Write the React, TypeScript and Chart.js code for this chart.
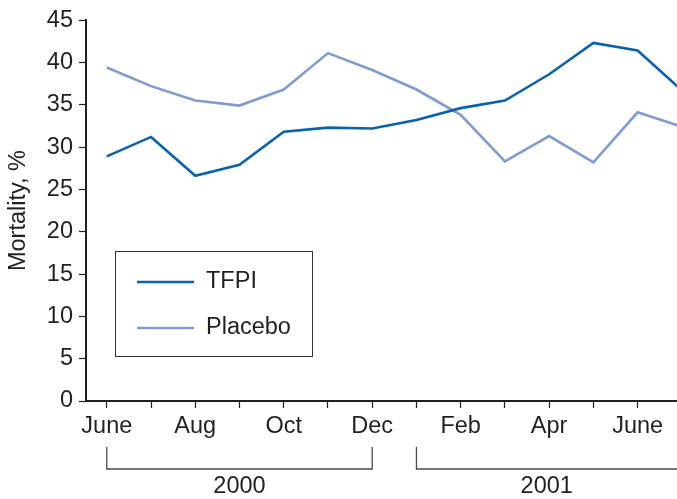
import React, { useEffect, useRef } from "react";
import { Chart, registerables } from "chart.js";
Chart.register(...registerables);

const monthIndex = [0, 1, 2, 3, 4, 5, 6, 7, 8, 9, 10, 11, 12, 13];
const monthNames = ["June", "July", "Aug", "Sep", "Oct", "Nov", "Dec", "Jan", "Feb", "Mar", "Apr", "May", "June", "July"];
const tickMonths = [0, 1, 2, 3, 4, 5, 6, 7, 8, 9, 10, 11, 12];
const labeledMonths = [0, 2, 4, 6, 8, 10, 12];
const tfpi = [28.9, 31.2, 26.6, 27.9, 31.8, 32.3, 32.2, 33.2, 34.6, 35.5, 38.6, 42.3, 41.4, 36.7];
const placebo = [39.4, 37.2, 35.5, 34.9, 36.8, 41.1, 39.1, 36.8, 33.8, 28.3, 31.3, 28.2, 34.1, 32.4];
const yTicks = [0, 5, 10, 15, 20, 25, 30, 35, 40, 45];
const yearLabels = ["2000", "2001"];
const yearStart = [0, 7];
const yearEnd = [6, null];
const seriesNames = ["TFPI", "Placebo"];
const seriesColors = ["#0a62ad", "#7f9bd2"];
const yTitle = "Mortality, %";

const FONT = '"Liberation Sans", Arial, Helvetica, sans-serif';
const FS = 23.5;
const INK = "#231f20";

export default function App() {
  const ref = useRef<HTMLCanvasElement>(null);
  useEffect(() => {
    if (!ref.current) return;
    const extras = {
      id: "extras",
      afterDraw(chart: any) {
        const ctx = chart.ctx;
        const xs = chart.scales.x;
        const area = chart.chartArea;
        ctx.save();
        ctx.fillStyle = INK;
        ctx.font = `${FS}px ${FONT}`;
        ctx.textAlign = "center";
        ctx.textBaseline = "middle";
        ctx.translate(19, (area.top + area.bottom) / 2);
        ctx.rotate(-Math.PI / 2);
        ctx.fillText(yTitle, 0, 0);
        ctx.restore();

        ctx.save();
        ctx.strokeStyle = "#4a4a4a";
        ctx.lineWidth = 1.3;
        ctx.fillStyle = INK;
        ctx.font = `${FS}px ${FONT}`;
        ctx.textAlign = "center";
        ctx.textBaseline = "middle";
        const yTop = 447, yBot = 469, yText = 487;
        yearLabels.forEach((lab, i) => {
          const x1 = xs.getPixelForValue(yearStart[i]);
          const endV = yearEnd[i];
          const x2 = endV === null ? area.right + 2 : xs.getPixelForValue(endV);
          ctx.beginPath();
          ctx.moveTo(x1, yTop);
          ctx.lineTo(x1, yBot);
          ctx.lineTo(x2, yBot);
          if (endV !== null) ctx.lineTo(x2, yTop);
          ctx.stroke();
          ctx.fillText(lab, (x1 + (endV === null ? area.right : x2)) / 2, yText);
        });
        ctx.restore();

        ctx.save();
        ctx.strokeStyle = "#333";
        ctx.lineWidth = 1;
        ctx.strokeRect(115.5, 251.5, 197, 105);
        ctx.font = `${FS}px ${FONT}`;
        ctx.textAlign = "left";
        ctx.textBaseline = "middle";
        const ly = [282, 328];
        chart.data.datasets.forEach((ds: any, i: number) => {
          ctx.strokeStyle = ds.borderColor;
          ctx.lineWidth = ds.borderWidth;
          ctx.beginPath();
          ctx.moveTo(137, ly[i]);
          ctx.lineTo(194, ly[i]);
          ctx.stroke();
          ctx.fillStyle = INK;
          ctx.fillText(ds.label, 206, ly[i]);
        });
        ctx.restore();
      },
    };

    const chart = new Chart(ref.current, {
      type: "line",
      data: {
        datasets: [
          {
            label: seriesNames[0],
            data: monthIndex.map((m, i) => ({ x: m, y: tfpi[i] })),
            borderColor: seriesColors[0],
            borderWidth: 2.6,
            pointRadius: 0,
            tension: 0,
            fill: false,
          },
          {
            label: seriesNames[1],
            data: monthIndex.map((m, i) => ({ x: m, y: placebo[i] })),
            borderColor: seriesColors[1],
            borderWidth: 2.6,
            pointRadius: 0,
            tension: 0,
            fill: false,
          },
        ],
      },
      options: {
        responsive: false,
        animation: false,
        events: [],
        layout: { padding: { top: 20, right: 0, left: 0, bottom: 0 } },
        plugins: { legend: { display: false }, tooltip: { enabled: false } },
        scales: {
          x: {
            type: "linear",
            min: -0.47,
            max: 12.89,
            afterBuildTicks: (s: any) => {
              s.ticks = tickMonths.map((v) => ({ value: v }));
            },
            afterFit: (s: any) => {
              s.height = 98;
            },
            grid: {
              drawOnChartArea: false,
              drawTicks: true,
              tickLength: 7,
              tickWidth: 1.2,
              tickColor: INK,
            },
            border: { display: true, color: INK, width: 2 },
            ticks: {
              autoSkip: false,
              maxRotation: 0,
              padding: 4,
              color: INK,
              font: { family: FONT, size: FS },
              callback: (v: any) => (labeledMonths.includes(v) ? monthNames[v] : ""),
            },
          },
          y: {
            type: "linear",
            min: 0,
            max: 45,
            afterBuildTicks: (s: any) => {
              s.ticks = yTicks.map((v) => ({ value: v }));
            },
            afterFit: (s: any) => {
              s.width = 86;
            },
            grid: {
              drawOnChartArea: false,
              drawTicks: true,
              tickLength: 7,
              tickWidth: 1.2,
              tickColor: INK,
            },
            border: { display: true, color: INK, width: 2 },
            ticks: {
              padding: 6,
              color: INK,
              font: { family: FONT, size: FS },
            },
          },
        },
      },
      plugins: [extras],
    });
    return () => chart.destroy();
  }, []);
  return (
    <div style={{ position: "fixed", left: 0, top: 0, width: 677, height: 499, background: "#fff" }}>
      <canvas ref={ref} width={677} height={499} style={{ display: "block" }} />
    </div>
  );
}
